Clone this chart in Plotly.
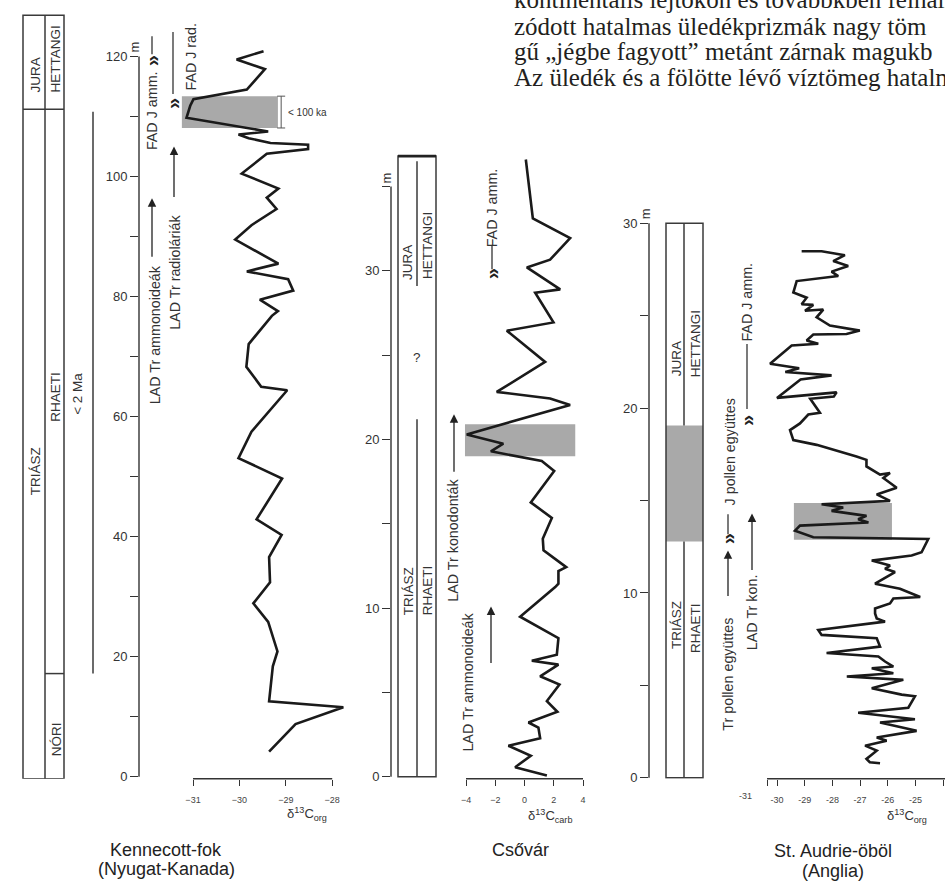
import plotly.graph_objects as go

W, H = 945, 888
SANS = "Liberation Sans, Arial, sans-serif"
SERIF = "Liberation Serif, Times New Roman, serif"
INK = "#1a1a1a"
AXC = "#333333"
GRAY = "#a9a9a9"

# ---------------- measured isotope curves ----------------
# Kennecott Point (Western Canada): depth (m), d13C org (permil)
kennecott_depth = [4.2, 8.8, 11.6, 12.6, 18.4, 20.9, 25.8, 28.9, 32.4, 36.6, 40.3, 42.9,
                   49.7, 53.1, 57.5, 64.4, 65.0, 68.3, 72.1, 76.8, 77.6, 79.5, 81.0, 82.9,
                   84.2, 85.5, 89.5, 91.9, 94.6, 96.5, 98.0, 100.5, 103.8, 104.6, 105.3,
                   105.6, 106.4, 107.0, 107.5, 109.8, 111.8, 112.9, 114.5, 117.9, 119.5, 120.9]
kennecott_d13c = [-29.36, -28.79, -27.76, -29.36, -29.28, -29.18, -29.38, -29.70, -29.34,
                  -29.36, -29.09, -29.63, -29.08, -30.02, -29.74, -28.97, -29.53, -29.85,
                  -29.80, -29.30, -29.17, -29.56, -28.84, -28.95, -29.84, -29.16, -30.09,
                  -29.74, -29.20, -29.41, -29.16, -29.95, -29.41, -28.52, -28.52, -29.33,
                  -29.80, -30.02, -29.38, -31.14, -31.06, -30.99, -29.84, -29.45, -30.06,
                  -29.48]

# Csővár: depth (m), d13C carb (permil)
csovar_depth = [0.08, 0.57, 1.25, 1.84, 2.29, 2.92, 3.22, 3.86, 4.49, 5.47, 5.96, 6.65,
                6.88, 7.24, 8.22, 9.49, 11.25, 11.45, 12.20, 12.43, 13.43, 14.12, 15.35,
                16.27, 18.13, 18.72, 19.30, 19.75, 20.30, 22.04, 22.43, 22.82, 24.60,
                26.45, 26.94, 28.70, 28.90, 30.20, 30.66, 31.94, 33.10, 36.60]
csovar_d13c = [1.53, -0.64, 0.43, -1.10, 1.07, 0.95, 0.27, 2.25, 1.53, 2.39, 1.07, 2.32,
               0.50, 2.21, 2.32, -0.30, 2.10, 2.32, 2.32, 2.85, 1.30, 1.25, 1.87, 0.43,
               2.03, 1.18, -2.30, -1.45, -3.95, 3.12, 1.75, -1.90, 1.41, -1.21, 1.98,
               0.73, 2.44, 0.16, 1.75, 3.12, 0.57, 0.09]

# St. Audrie's Bay (England): depth (m), d13C org (permil)
audrie_depth = [0.79, 0.84, 1.02, 1.47, 1.74, 2.01, 2.18, 2.54, 2.99, 3.17, 3.52, 3.79,
                4.41, 4.50, 4.85, 5.30, 5.48, 5.66, 5.93, 6.02, 6.29, 6.56, 6.75, 7.10,
                7.55, 7.73, 8.00, 8.45, 8.62, 8.89, 9.16, 9.43, 9.70, 9.78, 10.23, 10.50,
                11.13, 11.31, 11.48, 11.75, 12.03, 12.20, 12.92, 13.01, 13.37, 13.64,
                13.81, 13.99, 14.17, 14.44, 14.62, 14.80, 14.98, 15.33, 15.69, 16.22,
                16.49, 16.40, 16.84, 17.20, 17.38, 18.01, 18.27, 18.81, 19.17, 19.65,
                19.74, 20.50, 20.62, 20.85, 20.55, 21.55, 21.77, 21.95, 22.15, 22.40,
                23.39, 23.48, 23.66, 23.98, 24.01, 24.19, 24.46, 24.91, 25.33, 25.26,
                25.58, 25.62, 25.97, 26.25, 26.87, 27.14, 27.38, 27.68, 27.95, 28.27,
                28.48, 28.48]
audrie_d13c = [-26.28, -26.65, -26.77, -26.40, -26.82, -26.04, -26.40, -24.96, -26.28,
               -25.02, -27.07, -25.26, -25.02, -25.50, -26.58, -25.44, -27.48, -25.80,
               -26.58, -25.80, -26.10, -26.34, -28.21, -26.28, -26.40, -28.39, -28.51,
               -26.10, -26.40, -26.46, -26.46, -25.92, -25.80, -24.83, -25.56, -26.46,
               -25.74, -26.10, -25.92, -26.58, -25.14, -24.78, -24.54, -28.69, -29.35,
               -29.17, -26.70, -27.07, -26.77, -28.03, -27.61, -28.39, -25.92, -26.40,
               -25.68, -26.16, -25.92, -26.28, -26.77, -26.77, -27.13, -28.57, -29.41,
               -29.53, -29.17, -28.87, -28.45, -28.80, -27.95, -27.85, -30.00, -29.15,
               -28.03, -29.70, -29.20, -30.25, -29.47, -28.51, -28.93, -28.69, -27.49,
               -27.01, -28.09, -28.57, -28.33, -28.99, -28.69, -29.11, -28.93, -29.41,
               -29.29, -27.79, -28.03, -27.43, -27.97, -27.55, -28.39, -29.11]

# ---------------- stratigraphy and events ----------------
kennecott_base, kennecott_top = -0.3, 126.9
kennecott_tj = 111.2          # Triassic / Jurassic boundary
kennecott_nr = 17.2           # Norian / Rhaetian boundary
csovar_base, csovar_top = 0.0, 36.8
csovar_jura_base = 29.1
csovar_rhaeti_top = 21.2
audrie_base, audrie_top = 0.0, 30.0
audrie_uncertain = (12.78, 19.06)

# isotope excursion bands: (depth low, depth high, value low, value high)
kennecott_band = (108.1, 113.4, -31.24, -29.17)
csovar_band = (19.0, 20.9, -4.07, 3.47)
audrie_band = (12.88, 14.87, -29.39, -25.85)

# ticks
kennecott_xticks = [-31, -30, -29, -28]
csovar_xticks = [-4, -2, 0, 2, 4]
audrie_xticks = [-30, -29, -28, -27, -26, -25, -24]
kennecott_yticks = list(range(0, 121, 10))
csovar_yticks = list(range(0, 36, 5))
audrie_yticks = list(range(0, 31, 5))


def px(x):
    return x / W


def py(y):
    return 1 - y / H


def lbl(vals, step):
    return [str(v) if v % step == 0 else "" for v in vals]


fig = go.Figure()
line_style = dict(color=INK, width=2.6)
fig.add_trace(go.Scatter(x=kennecott_d13c, y=kennecott_depth, mode="lines",
                         line=line_style, xaxis="x", yaxis="y", hoverinfo="skip"))
fig.add_trace(go.Scatter(x=csovar_d13c, y=csovar_depth, mode="lines",
                         line=line_style, xaxis="x2", yaxis="y2", hoverinfo="skip"))
fig.add_trace(go.Scatter(x=audrie_d13c, y=audrie_depth, mode="lines",
                         line=line_style, xaxis="x3", yaxis="y3", hoverinfo="skip"))

xcommon = dict(showgrid=False, zeroline=False, showline=False, ticks="outside",
               ticklen=6, tickwidth=1.2, tickcolor=AXC, fixedrange=True,
               ticklabelstandoff=6,
               tickfont=dict(size=9, color="#444", family=SANS))
ycommon = dict(showgrid=False, zeroline=False, showline=False, ticks="outside",
               ticklen=8, tickwidth=1.2, tickcolor=AXC, fixedrange=True,
               tickfont=dict(size=13, color=AXC, family=SANS))

fig.update_layout(
    width=W, height=H, margin=dict(l=0, r=0, t=0, b=0),
    paper_bgcolor="white", plot_bgcolor="white", showlegend=False,
    xaxis=dict(domain=[px(139), px(360)], range=[-32.164, -27.401], anchor="y",
               tickvals=kennecott_xticks, **xcommon),
    yaxis=dict(domain=[py(785), 1.0], range=[-0.331, 129.42], anchor="x",
               tickvals=kennecott_yticks, ticktext=lbl(kennecott_yticks, 20), **ycommon),
    xaxis2=dict(domain=[px(391), px(600)], range=[-9.128, 5.162], anchor="y2",
                tickvals=csovar_xticks, **xcommon),
    yaxis2=dict(domain=[py(785), py(140)], range=[-0.118, 37.82], anchor="x2",
                tickvals=csovar_yticks, ticktext=lbl(csovar_yticks, 10), **ycommon),
    xaxis3=dict(domain=[px(649), 1.0], range=[-34.621, -23.935], anchor="y3",
                tickvals=[-30.36] + audrie_xticks,
                ticktext=[""] + [str(v) for v in audrie_xticks], **xcommon),
    yaxis3=dict(domain=[py(785), py(140)], range=[-0.054, 34.56], anchor="x3",
                tickvals=audrie_yticks, ticktext=lbl(audrie_yticks, 10), **ycommon),
)

shapes = []
ann = []
AX_LINE = dict(color=AXC, width=1.4)
COL_LINE = dict(color="#3a3a3a", width=1.5)

# axis lines (only over the measured span)
shapes += [
    dict(type="line", xref="x domain", x0=0, x1=0, yref="y", y0=0, y1=120, line=AX_LINE),
    dict(type="line", xref="x", x0=kennecott_xticks[0], x1=kennecott_xticks[-1],
         yref="y domain", y0=0, y1=0, line=AX_LINE),
    dict(type="line", xref="x2 domain", x0=0, x1=0, yref="y2", y0=0, y1=35, line=AX_LINE),
    dict(type="line", xref="x2", x0=csovar_xticks[0], x1=csovar_xticks[-1],
         yref="y2 domain", y0=0, y1=0, line=AX_LINE),
    dict(type="line", xref="x3 domain", x0=0, x1=0, yref="y3", y0=0, y1=30, line=AX_LINE),
    dict(type="line", xref="x3", x0=-30.36, x1=-23.935,
         yref="y3 domain", y0=0, y1=0, line=AX_LINE),
]

# excursion bands
for band, xr, yr in [(kennecott_band, "x", "y"), (csovar_band, "x2", "y2"),
                     (audrie_band, "x3", "y3")]:
    shapes.append(dict(type="rect", xref=xr, yref=yr, x0=band[2], x1=band[3],
                       y0=band[0], y1=band[1], fillcolor=GRAY, line=dict(width=0),
                       layer="below"))

# duration bracket on the Kennecott band
bx = -29.10
shapes.append(dict(type="line", xref="x", yref="y", x0=bx, x1=bx,
                   y0=kennecott_band[0], y1=kennecott_band[1], line=dict(color="#555", width=1)))
for yv in kennecott_band[:2]:
    shapes.append(dict(type="line", xref="x", yref="y", xsizemode="pixel", xanchor=bx,
                       x0=-4, x1=4, y0=yv, y1=yv, line=dict(color="#555", width=1)))
ann.append(dict(xref="x", yref="y", x=-29.0, y=sum(kennecott_band[:2]) / 2,
                text="< 100 ka", showarrow=False, xanchor="left", yanchor="middle",
                font=dict(size=10, color=AXC, family=SANS)))

# ---- stratigraphic columns ----
# Kennecott
k0, k1, k2 = px(23), px(45), px(64)
shapes += [
    dict(type="rect", xref="paper", yref="y", x0=k0, x1=k2, y0=kennecott_base,
         y1=kennecott_top, line=COL_LINE),
    dict(type="line", xref="paper", yref="y", x0=k1, x1=k1, y0=kennecott_base,
         y1=kennecott_top, line=COL_LINE),
    dict(type="line", xref="paper", yref="y", x0=k0, x1=k2, y0=kennecott_tj,
         y1=kennecott_tj, line=COL_LINE),
    dict(type="line", xref="paper", yref="y", x0=k1, x1=k2, y0=kennecott_nr,
         y1=kennecott_nr, line=COL_LINE),
    dict(type="line", xref="paper", yref="y", x0=px(93), x1=px(93), y0=kennecott_nr,
         y1=kennecott_tj - 0.4, line=COL_LINE),
]
# Csővár
c0, c1, c2 = px(398), px(417), px(436)
shapes += [
    dict(type="rect", xref="paper", yref="y2", x0=c0, x1=c2, y0=csovar_base,
         y1=csovar_top, line=COL_LINE),
    dict(type="line", xref="paper", yref="y2", x0=c0, x1=c2, y0=csovar_top,
         y1=csovar_top, line=dict(color="#222", width=2.6)),
    dict(type="line", xref="paper", yref="y2", x0=c1, x1=c1, y0=csovar_jura_base,
         y1=csovar_top - 0.3, line=COL_LINE),
    dict(type="line", xref="paper", yref="y2", x0=c1, x1=c1, y0=csovar_base,
         y1=csovar_rhaeti_top, line=COL_LINE),
]
# St. Audrie
s0, s1, s2 = px(666), px(684), px(703)
shapes += [
    dict(type="rect", xref="paper", yref="y3", x0=s0, x1=s2, y0=audrie_uncertain[0],
         y1=audrie_uncertain[1], fillcolor=GRAY, line=dict(width=0)),
    dict(type="rect", xref="paper", yref="y3", x0=s0, x1=s2, y0=audrie_base,
         y1=audrie_top, line=COL_LINE),
    dict(type="line", xref="paper", yref="y3", x0=s1, x1=s1, y0=audrie_uncertain[1],
         y1=audrie_top, line=COL_LINE),
    dict(type="line", xref="paper", yref="y3", x0=s1, x1=s1, y0=audrie_base,
         y1=audrie_uncertain[0], line=COL_LINE),
]


def vtext(text, x, y, size=13.5, yref="paper", angle=-90):
    ann.append(dict(xref="paper", yref=yref, x=x, y=y, text=text, showarrow=False,
                    textangle=angle, xanchor="center", yanchor="middle",
                    font=dict(size=size, color=AXC, family=SANS)))


# column labels (x pixel, y pixel)
for t, x, y in [("JURA", 35, 76), ("HETTANGI", 56, 60), ("TRIÁSZ", 35, 475),
                ("RHAETI", 56, 400), ("< 2 Ma", 78, 397), ("NÓRI", 56, 745),
                ("JURA", 408, 265), ("HETTANGI", 427, 248), ("TRIÁSZ", 408, 596),
                ("RHAETI", 427, 595), ("JURA", 676, 362), ("HETTANGI", 695, 347),
                ("TRIÁSZ", 676, 630), ("RHAETI", 695, 633)]:
    vtext(t, px(x), py(y))
vtext("?", px(417), py(360), angle=0)

# "m" unit marks at the top of each depth axis
for x, y in [(135, 48), (387, 180), (645, 216)]:
    vtext("m", px(x), py(y), size=13)

# ---- biostratigraphic events ----
# first appearances: double chevron with a stem above it
# (axis, x pixel, level m, stem top px, stem bottom px)
fads = [("y", 152, 119.2, 25, 7), ("y", 173, 112.1, 72, 10),
        ("y2", 492, 29.8, 29, 5), ("y3", 747, 19.3, 77, 12), ("y3", 728, 12.9, 25, 5)]
for yr, x, lev, a, b in fads:
    shapes.append(dict(type="line", xref="paper", yref=yr, x0=px(x), x1=px(x),
                       ysizemode="pixel", yanchor=lev, y0=a, y1=b,
                       line=dict(color="#333", width=1.3)))
    ann.append(dict(xref="paper", yref=yr, x=px(x), y=lev, text="<b>»</b>",
                    showarrow=False, textangle=-90, xanchor="center", yanchor="middle",
                    font=dict(size=20, color="#222", family=SANS)))

# last appearances: arrow pointing up from below (axis, x px, level m, length px)
lads = [("y", 174, 105.0, 52), ("y", 152, 96.4, 60), ("y2", 454, 21.5, 59),
        ("y2", 491, 10.1, 58), ("y3", 728, 12.3, 47), ("y3", 752, 14.3, 58)]
for yr, x, lev, length in lads:
    ann.append(dict(xref="paper", yref=yr, x=px(x), y=lev, text="", showarrow=True,
                    ax=0, ay=length, arrowhead=2, arrowsize=1.3, arrowwidth=1.3,
                    arrowcolor="#222"))

for t, x, y in [("FAD J amm.", 152, 112), ("FAD J rad.", 191, 57),
                ("LAD Tr radioláriák", 175, 275), ("LAD Tr ammonoideák", 155, 338),
                ("FAD J amm.", 492, 210), ("LAD Tr konodonták", 453, 545),
                ("LAD Tr ammonoideák", 468, 688), ("FAD J amm.", 747, 305),
                ("J pollen együttes", 730, 456), ("Tr pollen együttes", 728, 680),
                ("LAD Tr kon.", 752, 618)]:
    vtext(t, px(x), py(y), size=14.3)

# axis titles
for t, x, y in [("δ<sup>13</sup>C<sub>org</sub>", 307, 820),
                ("δ<sup>13</sup>C<sub>carb</sub>", 550, 822),
                ("δ<sup>13</sup>C<sub>org</sub>", 907, 822)]:
    ann.append(dict(xref="paper", yref="paper", x=px(x), y=py(y), text=t,
                    showarrow=False, xanchor="center", yanchor="middle",
                    font=dict(size=13, color=AXC, family=SANS)))
ann.append(dict(xref="x3", yref="paper", x=-31.15, y=py(802), text="-31",
                showarrow=False, xanchor="center", yanchor="middle",
                font=dict(size=9, color="#444", family=SANS)))

# section names
for t, x, y in [("Kennecott-fok", 166, 857), ("(Nyugat-Kanada)", 166, 876),
                ("Csővár", 520, 857), ("St. Audrie-öböl", 833, 858),
                ("(Anglia)", 833, 878)]:
    ann.append(dict(xref="paper", yref="paper", x=px(x), y=py(y), text=t,
                    showarrow=False, xanchor="center", yanchor="middle",
                    font=dict(size=18, color="#222", family=SANS)))

# running text of the page beside the figure
for t, y in [("kontinentális lejtőkön és továbbkben felhalm", -1),
             ("zódott hatalmas üledékprizmák nagy töm", 27),
             ("gű „jégbe fagyott” metánt zárnak magukb", 52),
             ("Az üledék és a fölötte lévő víztömeg hatalma", 78)]:
    ann.append(dict(xref="paper", yref="paper", x=px(512), y=py(y), text=t,
                    showarrow=False, xanchor="left", yanchor="middle",
                    font=dict(size=25, color="#231f20", family=SERIF)))

fig.update_layout(shapes=shapes, annotations=ann)
fig.write_html("out.html")
